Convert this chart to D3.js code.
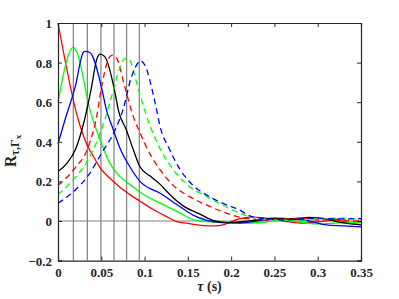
<!DOCTYPE html>
<html><head><meta charset="utf-8">
<script src="https://cdn.jsdelivr.net/npm/d3@7"></script>
<style>body{margin:0;background:#fff}svg{display:block}
text{font-family:"Liberation Serif","DejaVu Serif",serif;}</style>
</head><body>
<svg id="c" width="399" height="299"></svg>
<script>
const xTicks = [0, 0.05, 0.1, 0.15, 0.2, 0.25, 0.3, 0.35];
const yTicks = [-0.2, 0, 0.2, 0.4, 0.6, 0.8, 1];
const peakLines = [0.0177, 0.0339, 0.0496, 0.0647, 0.0793, 0.0939];

const redSolid = [[0,1],[0.0235,0.51],[0.033,0.39],[0.041,0.325],[0.0485,0.27],[0.064,0.2],[0.079,0.145],[0.0947,0.1],[0.11,0.058],[0.1255,0.022],[0.137,-0.003],[0.15,-0.012],[0.165,-0.022],[0.18,-0.025],[0.192,-0.018],[0.202,0],[0.21,0.012],[0.222,0.02],[0.24,0.015],[0.26,0],[0.28,-0.01],[0.30,-0.005],[0.32,0.005],[0.34,-0.01],[0.35,-0.008]];
const greenSolid = [[0,0.6],[0.0177,0.877],[0.0216,0.855],[0.037,0.56],[0.0485,0.41],[0.06,0.29],[0.0716,0.224],[0.087,0.172],[0.0947,0.145],[0.118,0.09],[0.141,0.04],[0.152,0.014],[0.164,0],[0.18,-0.005],[0.2,-0.008],[0.22,-0.01],[0.24,-0.005],[0.26,0.005],[0.28,-0.005],[0.3,-0.015],[0.32,-0.01],[0.35,-0.005]];
const blueSolid = [[0,0.39],[0.008,0.51],[0.02,0.68],[0.029,0.85],[0.031,0.857],[0.037,0.85],[0.05,0.68],[0.056,0.56],[0.064,0.46],[0.0716,0.367],[0.083,0.274],[0.0947,0.2],[0.118,0.14],[0.141,0.072],[0.156,0.03],[0.172,0.003],[0.19,-0.008],[0.21,-0.01],[0.23,0],[0.25,0.01],[0.27,0.01],[0.29,0],[0.31,-0.02],[0.33,-0.025],[0.35,-0.03]];
const blackSolid = [[0,0.25],[0.01,0.29],[0.02,0.36],[0.03,0.5],[0.038,0.66],[0.045,0.82],[0.0485,0.843],[0.054,0.83],[0.066,0.645],[0.0697,0.56],[0.079,0.46],[0.087,0.36],[0.0947,0.274],[0.106,0.228],[0.118,0.185],[0.13,0.13],[0.145,0.075],[0.164,0.035],[0.179,0.003],[0.195,-0.008],[0.21,-0.005],[0.23,0.005],[0.25,0.015],[0.27,0.012],[0.29,0.018],[0.31,0.01],[0.33,-0.01],[0.35,-0.02]];
const redDashed = [[0,0.18],[0.02,0.27],[0.035,0.375],[0.046,0.56],[0.0485,0.63],[0.06,0.83],[0.063,0.838],[0.068,0.82],[0.077,0.68],[0.087,0.527],[0.095,0.443],[0.106,0.34],[0.118,0.258],[0.133,0.18],[0.152,0.123],[0.172,0.08],[0.19,0.047],[0.207,0.022],[0.222,0.01],[0.24,0.005],[0.26,0.01],[0.28,0.015],[0.3,0.005],[0.32,0.01],[0.34,0],[0.35,0.005]];
const greenDashed = [[0,0.135],[0.02,0.22],[0.035,0.31],[0.054,0.51],[0.062,0.63],[0.075,0.81],[0.0785,0.823],[0.083,0.81],[0.092,0.68],[0.1,0.56],[0.11,0.44],[0.121,0.34],[0.133,0.26],[0.152,0.173],[0.172,0.123],[0.19,0.08],[0.21,0.04],[0.222,0.02],[0.24,0.01],[0.26,0.005],[0.28,0],[0.3,0.01],[0.32,0.015],[0.35,0.01]];
const blueDashed = [[0,0.09],[0.02,0.157],[0.035,0.23],[0.05,0.34],[0.066,0.46],[0.075,0.56],[0.085,0.73],[0.0935,0.805],[0.0947,0.81],[0.1,0.79],[0.112,0.6],[0.118,0.476],[0.129,0.36],[0.141,0.26],[0.156,0.18],[0.172,0.13],[0.19,0.09],[0.21,0.055],[0.222,0.025],[0.24,0.012],[0.26,0.005],[0.28,0.01],[0.3,0.015],[0.32,0.01],[0.35,0.012]];

const series = [
  {d: redSolid, c: "#ff0000", dash: null},
  {d: greenSolid, c: "#00ff00", dash: null},
  {d: blueSolid, c: "#0000ff", dash: null},
  {d: blackSolid, c: "#000000", dash: null},
  {d: redDashed, c: "#ff0000", dash: "6,4"},
  {d: greenDashed, c: "#00ff00", dash: "6,4"},
  {d: blueDashed, c: "#0000ff", dash: "6,4"}
];

const svg = d3.select("#c");
const L = 58, R = 361, T = 23, B = 260.6;
const x = d3.scaleLinear().domain([0, 0.35]).range([L, R]);
const y = d3.scaleLinear().domain([-0.2, 1]).range([B, T]);

const g = svg.append("g");
g.selectAll("line.v").data(peakLines).enter().append("line")
  .attr("x1", d => x(d)).attr("x2", d => x(d)).attr("y1", y(-0.2)).attr("y2", y(1))
  .attr("stroke", "#808080").attr("stroke-width", 1.2);
g.append("line").attr("x1", x(0)).attr("x2", x(0.35)).attr("y1", y(0)).attr("y2", y(0))
  .attr("stroke", "#808080").attr("stroke-width", 1.2);

const line = d3.line().x(d => x(d[0])).y(d => y(d[1])).curve(d3.curveMonotoneX);
g.selectAll("path.s").data(series).enter().append("path")
  .attr("d", d => line(d.d)).attr("fill", "none")
  .attr("stroke", d => d.c).attr("stroke-width", 1.3)
  .attr("stroke-dasharray", d => d.dash);

const font = '"Liberation Serif","DejaVu Serif",serif';
const ax = svg.append("g").attr("transform", `translate(0,${B})`)
  .call(d3.axisBottom(x).tickValues(xTicks).tickSize(-4).tickPadding(7).tickFormat(d3.format("")));
const axT = svg.append("g").attr("transform", `translate(0,${T})`)
  .call(d3.axisTop(x).tickValues(xTicks).tickSize(-4).tickFormat(""));
const ay = svg.append("g").attr("transform", `translate(${L},0)`)
  .call(d3.axisLeft(y).tickValues(yTicks).tickSize(-4).tickPadding(6).tickFormat(d3.format("")));
const ayR = svg.append("g").attr("transform", `translate(${R},0)`)
  .call(d3.axisRight(y).tickValues(yTicks).tickSize(-4).tickFormat(""));
[ax, axT, ay, ayR].forEach(a => {
  a.attr("font-family", null);
  a.select(".domain").attr("stroke", "#262626").attr("stroke-width", 1.2);
  a.selectAll(".tick line").attr("stroke", "#262626");
  a.selectAll("text").style("font-family", font).style("font-weight", "bold")
   .style("font-size", "13px").attr("fill", "#262626");
});
ay.selectAll("text").attr("dy", "0.35em");

const xl = svg.append("text").attr("x", (L + R) / 2).attr("y", 291)
  .attr("text-anchor", "middle").style("font-family", font).style("font-weight", "bold")
  .style("font-size", "14px").attr("fill", "#262626");
xl.append("tspan").style("font-style", "italic").text("τ");
xl.append("tspan").text(" (s)");

const yl = svg.append("text").attr("transform", "translate(15.5,167) rotate(-90)")
  .attr("text-anchor", "start").style("font-family", font).style("font-weight", "bold")
  .style("font-size", "16px").attr("fill", "#262626");
yl.append("tspan").text("R");
yl.append("tspan").style("font-size", "12px").attr("dy", 3).text("τ,Γ");
yl.append("tspan").style("font-size", "9px").attr("dy", 2).text("x");
</script>
</body></html>
